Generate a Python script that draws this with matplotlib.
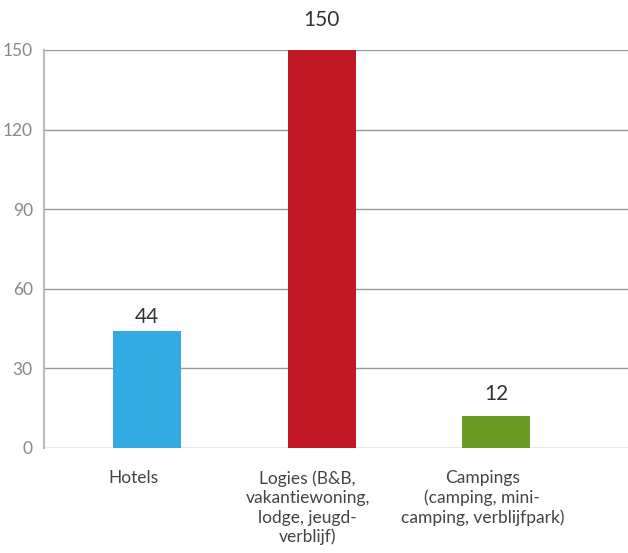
import matplotlib.pyplot as plt
import numpy as np

plt.rcParams['font.family'] = ['Lato', 'DejaVu Sans']

# Data
categories = [
    "Hotels",
    "Logies (B&B,\nvakantiewoning,\nlodge, jeugd-\nverblijf)",
    "Campings\n(camping, mini-\ncamping, verblijfpark)",
]
values = [44, 150, 12]
colors = ["#35a9e1", "#c01824", "#6a9a22"]
yticks = [0, 30, 60, 90, 120, 150]

# gap (pixels) between bar top and its value label, as in the original
label_pad = [4, 20, 12]

fig = plt.figure(figsize=(6.28, 5.53), dpi=100)
ax = fig.add_axes([0.070, 0.19, 0.93, 0.7196])

x = np.arange(len(categories))
ax.bar(x, values, width=0.39, color=colors, zorder=3)

# Value labels above bars
for xi, v, pad in zip(x, values, label_pad):
    ax.annotate(str(v), (xi, v), xytext=(0, pad * 0.72), textcoords="offset points",
                ha="center", va="bottom", fontsize=15, color="#333333")

ax.set_xlim(-0.59, 2.754)
ax.set_ylim(0, 150)
ax.set_yticks(yticks)
ax.yaxis.grid(True, color="#999999", linewidth=1, zorder=0)
ax.tick_params(axis="y", length=0, pad=8, labelsize=12.5, labelcolor="#888888")

# Category labels under axis
ax.set_xticks([])
for xi, lab in zip(x, categories):
    ax.text(xi - 0.08, -8.5, lab, ha="center", va="top", fontsize=12.5,
            color="#444444", linespacing=1.25)

for s in ["top", "right", "bottom"]:
    ax.spines[s].set_visible(False)
ax.spines["left"].set_color("#bbbbbb")
ax.spines["left"].set_linewidth(1.5)

fig.savefig("out.png", dpi=100)
